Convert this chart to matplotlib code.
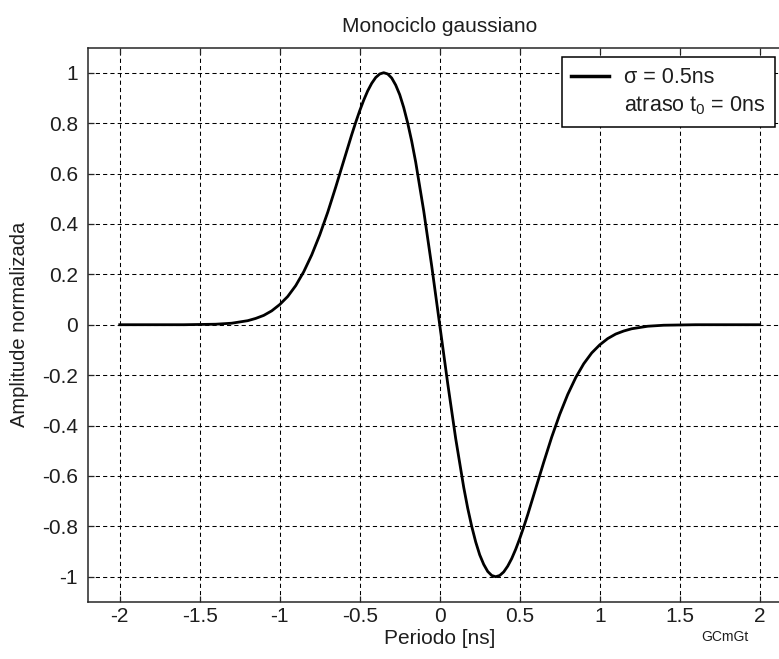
import matplotlib.pyplot as plt
from matplotlib.lines import Line2D

plt.rcParams.update({
    "font.family": ["Liberation Sans", "DejaVu Sans"],
    "mathtext.fontset": "custom",
    "mathtext.rm": "Liberation Sans",
    "mathtext.it": "Liberation Sans:italic",
    "font.size": 15,
})

# valores (periodo en ns, amplitud normalizada)
t = [-2.0, -1.8, -1.6, -1.5, -1.4, -1.3, -1.2, -1.15, -1.1, -1.05, -1.0,
     -0.95, -0.9, -0.85, -0.8, -0.75, -0.7, -0.65, -0.6, -0.55, -0.525, -0.5,
     -0.475, -0.45, -0.425, -0.4, -0.375, -0.35, -0.325, -0.3, -0.275, -0.25,
     -0.225, -0.2, -0.175, -0.15, -0.1, -0.05, 0.0,
     0.05, 0.1, 0.15, 0.175, 0.2, 0.225, 0.25, 0.275, 0.3, 0.325, 0.35, 0.375,
     0.4, 0.425, 0.45, 0.475, 0.5, 0.525, 0.55, 0.6, 0.65, 0.7, 0.75, 0.8,
     0.85, 0.9, 0.95, 1.0, 1.05, 1.1, 1.15, 1.2, 1.3, 1.4, 1.5, 1.6, 1.8, 2.0]
amp = [0.0, 0.0, 0.0, 0.001, 0.002, 0.006, 0.016, 0.025, 0.037, 0.055, 0.080,
       0.112, 0.155, 0.210, 0.277, 0.356, 0.446, 0.546, 0.650, 0.754, 0.803,
       0.849, 0.891, 0.928, 0.958, 0.981, 0.995, 1.0, 0.995, 0.979, 0.951,
       0.913, 0.862, 0.800, 0.728, 0.645, 0.452, 0.233, 0.0,
       -0.233, -0.452, -0.645, -0.728, -0.800, -0.862, -0.913, -0.951, -0.979,
       -0.995, -1.0, -0.995, -0.981, -0.958, -0.928, -0.891, -0.849, -0.803,
       -0.754, -0.650, -0.546, -0.446, -0.356, -0.277, -0.210, -0.155, -0.112,
       -0.080, -0.055, -0.037, -0.025, -0.016, -0.006, -0.002, -0.001, 0.0,
       0.0, 0.0]

xticks = [-2, -1.5, -1, -0.5, 0, 0.5, 1, 1.5, 2]
xtick_labels = ["-2", "-1.5", "-1", "-0.5", "0", "0.5", "1", "1.5", "2"]
yticks = [1, 0.8, 0.6, 0.4, 0.2, 0, -0.2, -0.4, -0.6, -0.8, -1]
ytick_labels = ["1", "0.8", "0.6", "0.4", "0.2", "0", "-0.2", "-0.4",
                "-0.6", "-0.8", "-1"]

txt = "#1e1e1e"

fig = plt.figure(figsize=(7.79, 6.59), dpi=100)
ax = fig.add_axes([0.1126, 0.0866, 0.9037, 0.8413])

ax.plot(t, amp, color="black", linewidth=2.0)

ax.set_xlim(-2.2, 2.2)
ax.set_ylim(-1.1, 1.1)
ax.set_xticks(xticks)
ax.set_xticklabels(xtick_labels)
ax.set_yticks(yticks)
ax.set_yticklabels(ytick_labels)

ax.grid(True, color="black", linestyle=(0, (4, 3)), linewidth=0.75)
ax.tick_params(direction="in", length=4.5, width=0.9, top=True, right=True,
               colors="#262626", labelcolor=txt)
ax.tick_params(axis="x", pad=4)
ax.tick_params(axis="y", pad=7)
for s in ax.spines.values():
    s.set_color("#262626")
    s.set_linewidth(1.1)

ax.set_title("Monociclo gaussiano", color=txt, fontsize=15, pad=11)
ax.set_xlabel("Periodo [ns]", color=txt, labelpad=2)
ax.set_ylabel("Amplitude normalizada", color=txt, fontsize=14.5, labelpad=9)

handles = [Line2D([], [], color="black", linewidth=2.5),
           Line2D([], [], color="none")]
labels = ["σ = 0.5ns", r"atraso $\mathrm{t_0}$ = 0ns"]
leg = ax.legend(handles, labels, loc="upper left", fontsize=15.5,
                bbox_to_anchor=(0.6733, 0.982), fancybox=False,
                edgecolor="black", framealpha=1, handlelength=1.75,
                handletextpad=0.7, labelspacing=0.3, borderpad=0.45,
                borderaxespad=0)
leg.get_frame().set_linewidth(1.1)
for tx in leg.get_texts():
    tx.set_color(txt)

fig.text(0.931, 0.033, "GCmGt", fontsize=10, color=txt, ha="center",
         va="center")

plt.savefig("out.png", dpi=100)
